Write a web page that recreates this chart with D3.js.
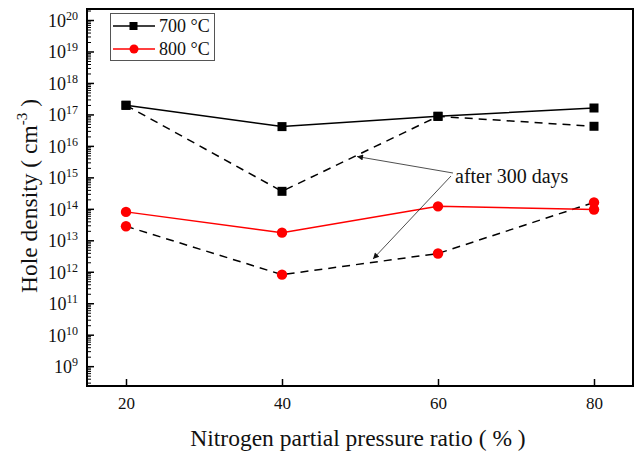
<!DOCTYPE html>
<html>
<head>
<meta charset="utf-8">
<script src="https://cdn.jsdelivr.net/npm/d3@7"></script>
<style>
  body { margin: 0; background: #fff; }
  svg text { font-family: "Liberation Serif", "Times New Roman", serif; }
</style>
</head>
<body>
<div id="chart"></div>
<script>
// nitrogen partial pressure ratio (%)
const ratios = [20, 40, 60, 80]
// hole density (cm^-3)
const as700 = [1.95e17, 4.1e16, 8.7e16, 1.6e17]
const aged700 = [1.95e17, 3.6e14, 8.7e16, 4.2e16]
const as800 = [8e13, 1.75e13, 1.2e14, 9.5e13]
const aged800 = [2.8e13, 8.1e11, 3.8e12, 1.6e14]
const xTicks = [20, 40, 60, 80]
const yExponents = [9, 10, 11, 12, 13, 14, 15, 16, 17, 18, 19, 20]
const legendLabels = ["700 \u00B0C", "800 \u00B0C"]
const noteText = "after 300 days"

const width = 634, height = 452
const margin = {top: 9, right: 1, bottom: 66, left: 87}
const iw = width - margin.left - margin.right
const ih = height - margin.top - margin.bottom

const svg = d3.select("#chart").append("svg")
    .attr("width", width)
    .attr("height", height)

const x = d3.scaleLinear().domain([15, 85]).range([margin.left, margin.left + iw])
const y = d3.scaleLog().domain([Math.pow(10, 8.37), Math.pow(10, 20.35)])
    .range([margin.top + ih, margin.top])

const defs = svg.append("defs")
defs.append("marker")
    .attr("id", "arrow")
    .attr("viewBox", "0 0 10 10")
    .attr("refX", 10).attr("refY", 5)
    .attr("markerWidth", 11).attr("markerHeight", 6)
    .attr("markerUnits", "userSpaceOnUse")
    .attr("orient", "auto")
    .append("path")
    .attr("d", "M0,0 L10,5 L0,10 Z")
    .attr("fill", "#111")

// x axis
const xAxis = svg.append("g")
    .attr("transform", "translate(0," + (margin.top + ih) + ")")
    .call(d3.axisBottom(x).tickValues(xTicks).tickSize(-7).tickPadding(11).tickSizeOuter(0))
xAxis.select(".domain").remove()
xAxis.selectAll(".tick line").attr("stroke", "#000").attr("stroke-width", 1.5)
xAxis.selectAll(".tick text").attr("font-size", 17).attr("fill", "#111")

// y axis, major ticks
const yMajor = yExponents.map(e => Math.pow(10, e))
const yAxis = svg.append("g")
    .attr("transform", "translate(" + margin.left + ",0)")
    .call(d3.axisLeft(y).tickValues(yMajor).tickSize(-7).tickFormat("").tickSizeOuter(0))
yAxis.select(".domain").remove()
yAxis.selectAll(".tick line").attr("stroke", "#000").attr("stroke-width", 1.5)

// y axis, minor ticks
const yMinor = []
for (let e = 8; e <= 20; e++) {
    for (let k = 2; k <= 9; k++) {
        const v = k * Math.pow(10, e)
        if (v > y.domain()[0] && v < y.domain()[1]) yMinor.push(v)
    }
}
const yAxisMinor = svg.append("g")
    .attr("transform", "translate(" + margin.left + ",0)")
    .call(d3.axisLeft(y).tickValues(yMinor).tickSize(-4).tickFormat("").tickSizeOuter(0))
yAxisMinor.select(".domain").remove()
yAxisMinor.selectAll(".tick line").attr("stroke", "#000").attr("stroke-width", 1)

// y tick labels 10^n
const yLab = svg.append("g")
yExponents.forEach(function(e) {
    const t = yLab.append("text")
        .attr("x", margin.left - 9)
        .attr("y", y(Math.pow(10, e)) + 7)
        .attr("text-anchor", "end")
        .attr("fill", "#111")
        .attr("font-size", 18)
    t.append("tspan").text("10")
    t.append("tspan").attr("dy", -7).attr("font-size", 12).text(e)
})

// frame
svg.append("rect")
    .attr("x", margin.left).attr("y", margin.top)
    .attr("width", iw).attr("height", ih)
    .attr("fill", "none").attr("stroke", "#000").attr("stroke-width", 2)

const line = d3.line()
    .x((d, i) => x(ratios[i]))
    .y(d => y(d))

// dashed lines after 300 days
;[aged700, aged800].forEach(function(s) {
    svg.append("path")
        .attr("d", line(s))
        .attr("fill", "none")
        .attr("stroke", "#000")
        .attr("stroke-width", 1.5)
        .attr("stroke-dasharray", "8,6")
})

// solid lines
svg.append("path").attr("d", line(as700))
    .attr("fill", "none").attr("stroke", "#000").attr("stroke-width", 1.5)
svg.append("path").attr("d", line(as800))
    .attr("fill", "none").attr("stroke", "#ff0000").attr("stroke-width", 1.5)

// markers
;[as700, aged700].forEach(function(s) {
    svg.append("g").selectAll("rect")
        .data(s)
        .enter().append("rect")
        .attr("x", (d, i) => x(ratios[i]) - 4.5)
        .attr("y", d => y(d) - 4.5)
        .attr("width", 9).attr("height", 9)
        .attr("fill", "#000")
})
;[as800, aged800].forEach(function(s) {
    svg.append("g").selectAll("circle")
        .data(s)
        .enter().append("circle")
        .attr("cx", (d, i) => x(ratios[i]))
        .attr("cy", d => y(d))
        .attr("r", 5.2)
        .attr("fill", "#ff0000")
})

// annotation
svg.append("text")
    .attr("x", 455).attr("y", 183)
    .attr("font-size", 20)
    .attr("fill", "#111")
    .text(noteText)
svg.append("line")
    .attr("x1", 453).attr("y1", 173).attr("x2", 357).attr("y2", 156.5)
    .attr("stroke", "#222").attr("stroke-width", 0.8)
    .attr("marker-end", "url(#arrow)")
svg.append("line")
    .attr("x1", 451).attr("y1", 176).attr("x2", 373).attr("y2", 259)
    .attr("stroke", "#222").attr("stroke-width", 0.8)
    .attr("marker-end", "url(#arrow)")

// legend
const legend = svg.append("g")
legend.append("rect")
    .attr("x", 110.5).attr("y", 13.5)
    .attr("width", 104).attr("height", 47)
    .attr("fill", "#fff").attr("stroke", "#555").attr("stroke-width", 1)
const legendColors = ["#000", "#ff0000"]
legendLabels.forEach(function(lbl, i) {
    const ly = 26 + i * 23
    legend.append("line")
        .attr("x1", 113).attr("x2", 155).attr("y1", ly).attr("y2", ly)
        .attr("stroke", legendColors[i]).attr("stroke-width", 1.5)
    if (i === 0) {
        legend.append("rect")
            .attr("x", 129.5).attr("y", ly - 4).attr("width", 8).attr("height", 8)
            .attr("fill", "#000")
    } else {
        legend.append("circle")
            .attr("cx", 134).attr("cy", ly).attr("r", 4.5)
            .attr("fill", "#ff0000")
    }
    legend.append("text")
        .attr("x", 159).attr("y", ly + 6)
        .attr("font-size", 18)
        .attr("fill", "#111")
        .text(lbl)
})

// axis titles
svg.append("text")
    .attr("x", 358).attr("y", 446)
    .attr("text-anchor", "middle")
    .attr("font-size", 23.5)
    .attr("fill", "#111")
    .text("Nitrogen partial pressure ratio ( % )")

const yTitle = svg.append("text")
    .attr("transform", "translate(37,196) rotate(-90)")
    .attr("text-anchor", "middle")
    .attr("font-size", 23.5)
    .attr("fill", "#111")
yTitle.append("tspan").text("Hole density ( cm")
yTitle.append("tspan").attr("dy", -10).attr("font-size", 15).text("-3")
yTitle.append("tspan").attr("dy", 10).text(" )")
</script>
</body>
</html>
